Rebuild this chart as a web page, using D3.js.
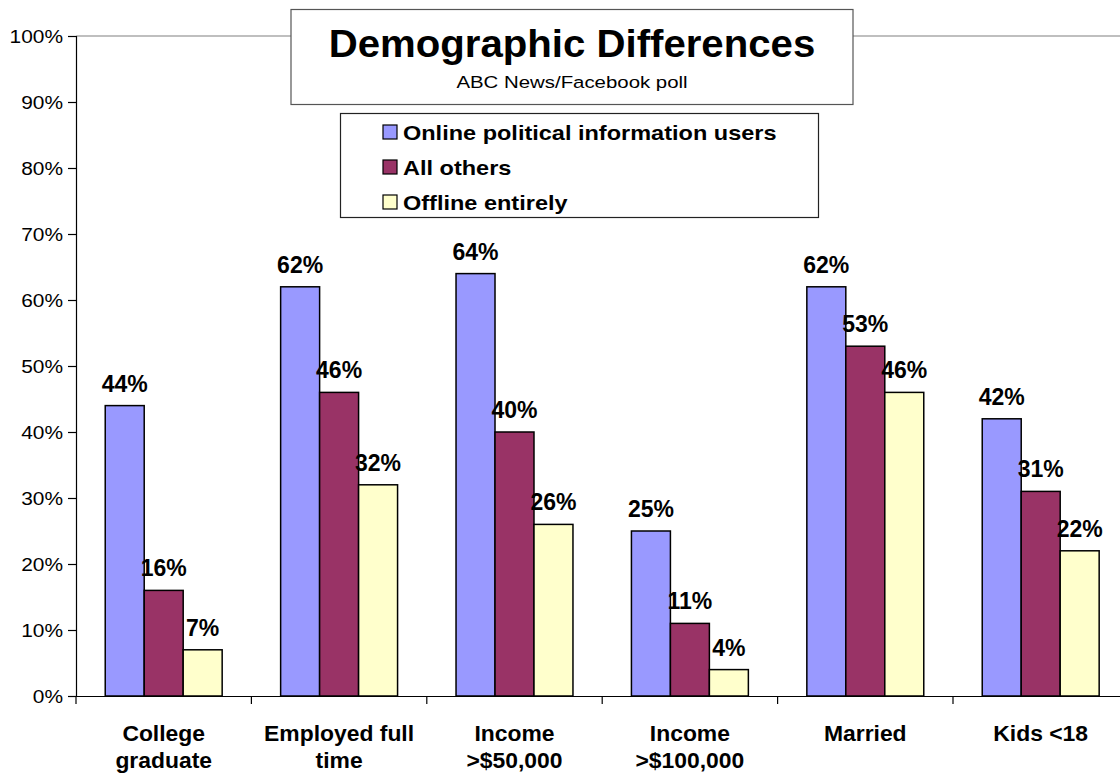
<!DOCTYPE html>
<html>
<head>
<meta charset="utf-8">
<script src="https://cdn.jsdelivr.net/npm/d3@7"></script>
<style>
  html, body { margin: 0; padding: 0; background: #fff; }
  svg { display: block; font-family: Arial, "Liberation Sans", Helvetica, sans-serif; }
</style>
</head>
<body>
<svg id="chart" width="1120" height="774"></svg>
<script>
// Demographic groups along the x axis (lines split on "\n")
const categories = [
  "College\ngraduate",
  "Employed full\ntime",
  "Income\n>$50,000",
  "Income\n>$100,000",
  "Married",
  "Kids <18"
];
const seriesNames = ["Online political information users", "All others", "Offline entirely"];
const onlineUsers = [44, 62, 64, 25, 62, 42];
const allOthers   = [16, 46, 40, 11, 53, 31];
const offline     = [7, 32, 26, 4, 46, 22];
const seriesColors = ["#9999FF", "#993366", "#FFFFCC"];
const yTicks = [0, 10, 20, 30, 40, 50, 60, 70, 80, 90, 100];
const titleText = "Demographic Differences";
const subtitleText = "ABC News/Facebook poll";

const seriesValues = [onlineUsers, allOthers, offline];
const rows = categories.map((c, i) => ({
  category: c,
  values: seriesNames.map((s, j) => ({ series: s, idx: j, value: seriesValues[j][i] }))
}));

// Widen text horizontally about its anchor point
function stretchX(sel, sx) {
  sel.attr("transform", function () {
    const x = +this.getAttribute("x") || 0;
    const y = +this.getAttribute("y") || 0;
    return `translate(${x},${y}) scale(${sx},1) translate(${-x},${-y})`;
  });
}

const svg = d3.select("#chart");
const plot = { left: 76, top: 36, bottom: 696, catWidth: 175.4 };

const x0 = d3.scaleBand()
  .domain(categories)
  .range([plot.left, plot.left + plot.catWidth * categories.length])
  .padding(0);
const groupWidth = x0.bandwidth() / 1.5;
const x1 = d3.scaleBand()
  .domain(seriesNames)
  .range([(x0.bandwidth() - groupWidth) / 2, (x0.bandwidth() + groupWidth) / 2])
  .padding(0);
const y = d3.scaleLinear().domain([0, 100]).range([plot.bottom, plot.top]);

// Plot area top border
svg.append("line")
  .attr("x1", plot.left).attr("x2", 1120)
  .attr("y1", y(100)).attr("y2", y(100))
  .attr("stroke", "#808080").attr("stroke-width", 1.2);

// Y axis
const yAxis = d3.axisLeft(y)
  .tickValues(yTicks)
  .tickFormat(d => d + "%")
  .tickSize(8)
  .tickPadding(5);
const yg = svg.append("g").attr("transform", `translate(${plot.left},0)`).call(yAxis);
yg.select(".domain").attr("stroke", "#000").attr("stroke-width", 1.2);
yg.selectAll(".tick line").attr("stroke", "#000").attr("stroke-width", 1.2);
yg.selectAll(".tick text").attr("font-size", 19).attr("fill", "#000")
  .attr("font-family", "Arial, 'Liberation Sans', sans-serif")
  .call(stretchX, 1.1);

// Bars
const groups = svg.append("g").selectAll("g")
  .data(rows).join("g")
  .attr("transform", d => `translate(${x0(d.category)},0)`);

groups.selectAll("rect")
  .data(d => d.values).join("rect")
  .attr("x", d => x1(d.series))
  .attr("y", d => y(d.value))
  .attr("width", x1.bandwidth())
  .attr("height", d => y(0) - y(d.value))
  .attr("fill", d => seriesColors[d.idx])
  .attr("stroke", "#000").attr("stroke-width", 1.5);

// Value labels
groups.selectAll("text.val")
  .data(d => d.values).join("text")
  .attr("class", "val")
  .attr("x", d => x1(d.series) + x1.bandwidth() / 2)
  .attr("y", d => y(d.value) - 14)
  .attr("text-anchor", "middle")
  .attr("font-size", 23).attr("font-weight", "bold")
  .text(d => d.value + "%");

// X axis
const xAxis = d3.axisBottom(x0).tickSize(0).tickFormat("");
const xg = svg.append("g").attr("transform", `translate(0,${plot.bottom})`).call(xAxis);
xg.select(".domain").attr("stroke", "#000").attr("stroke-width", 1.2);
// Tick marks between categories
const boundaries = categories.map(c => x0(c)).concat([x0(categories[categories.length - 1]) + x0.bandwidth()]);
xg.selectAll("line.sep").data(boundaries).join("line")
  .attr("class", "sep")
  .attr("x1", d => d).attr("x2", d => d)
  .attr("y1", 0).attr("y2", 8)
  .attr("stroke", "#000").attr("stroke-width", 1.2);

// Category labels
const catLabels = svg.append("g").selectAll("text")
  .data(categories).join("text")
  .attr("x", d => x0(d) + x0.bandwidth() / 2)
  .attr("y", 741)
  .attr("text-anchor", "middle")
  .attr("font-size", 22).attr("font-weight", "bold");
catLabels.selectAll("tspan")
  .data(d => d.split("\n").map(t => ({ t, x: x0(d) + x0.bandwidth() / 2 })))
  .join("tspan")
  .attr("x", d => d.x)
  .attr("dy", (d, i) => i === 0 ? 0 : 27)
  .text(d => d.t);
catLabels.call(stretchX, 1.04);

// Title box
const tb = svg.append("g");
tb.append("rect")
  .attr("x", 291).attr("y", 9.5).attr("width", 562).attr("height", 95)
  .attr("fill", "#fff").attr("stroke", "#555").attr("stroke-width", 1.2);
tb.append("text")
  .attr("x", 572).attr("y", 57)
  .attr("text-anchor", "middle")
  .attr("font-size", 39).attr("font-weight", "bold")
  .text(titleText)
  .call(stretchX, 1.03);
tb.append("text")
  .attr("x", 572).attr("y", 88)
  .attr("text-anchor", "middle")
  .attr("font-size", 17)
  .text(subtitleText)
  .call(stretchX, 1.2);

// Legend
const lg = svg.append("g");
lg.append("rect")
  .attr("x", 340.5).attr("y", 113.5).attr("width", 478).attr("height", 104)
  .attr("fill", "#fff").attr("stroke", "#222").attr("stroke-width", 1.2);
const items = lg.selectAll("g.item").data(seriesNames).join("g")
  .attr("class", "item")
  .attr("transform", (d, i) => `translate(383,${132 + i * 35})`);
items.append("rect")
  .attr("x", 0).attr("y", -7).attr("width", 14).attr("height", 14)
  .attr("fill", (d, i) => seriesColors[i])
  .attr("stroke", "#000").attr("stroke-width", 1.2);
items.append("text")
  .attr("x", 20).attr("y", 8)
  .attr("font-size", 21).attr("font-weight", "bold")
  .text(d => d)
  .call(stretchX, 1.12);
</script>
</body>
</html>
